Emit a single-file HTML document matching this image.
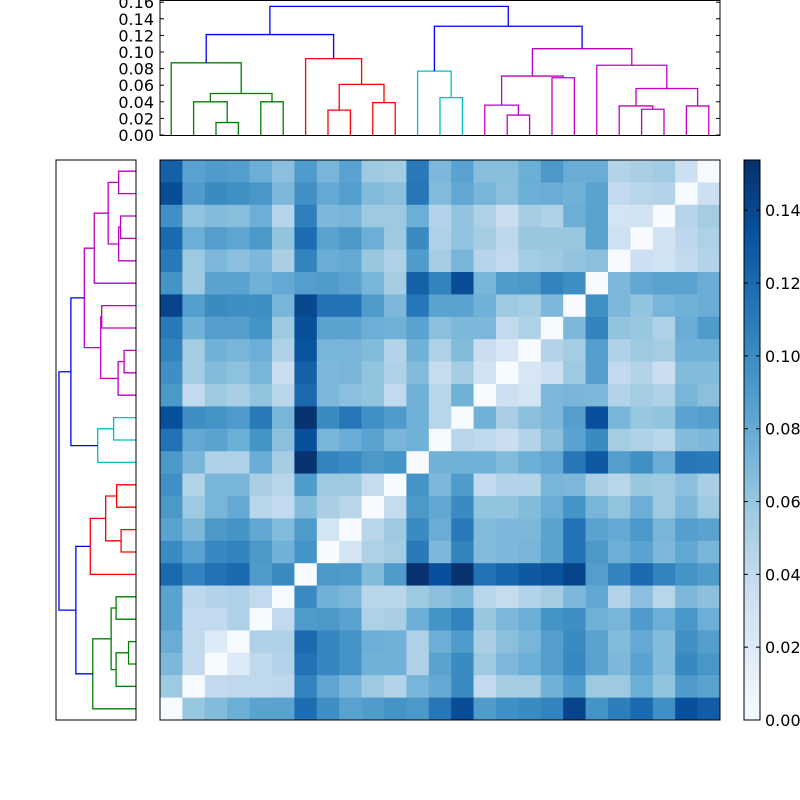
<!DOCTYPE html>
<html><head><meta charset="utf-8"><style>
html,body{margin:0;padding:0;background:#fff;}
svg{display:block;}
text{font-family:"DejaVu Sans","Liberation Sans",sans-serif;font-size:16px;fill:#000;}
</style></head><body>
<svg id="chart" width="800" height="800" viewBox="0 0 800 800">
<rect x="0" y="0" width="800" height="800" fill="#fff"/>
<g id="heat"></g>
<rect x="160" y="160" width="560" height="560" fill="none" stroke="#000" stroke-width="1"/>
<g id="topd"></g>
<rect x="160" y="0.5" width="560" height="135" fill="none" stroke="#000" stroke-width="1"/>
<g id="topaxis"></g>
<g id="leftd"></g>
<rect x="56" y="160" width="80" height="560" fill="none" stroke="#000" stroke-width="1"/>
<defs><linearGradient id="cbgrad" x1="0" y1="1" x2="0" y2="0">
<stop offset="0" stop-color="#f7fbff"/><stop offset="0.125" stop-color="#deebf7"/><stop offset="0.25" stop-color="#c6dbef"/><stop offset="0.375" stop-color="#9ecae1"/><stop offset="0.5" stop-color="#6baed6"/><stop offset="0.625" stop-color="#4292c6"/><stop offset="0.75" stop-color="#2171b5"/><stop offset="0.875" stop-color="#08519c"/><stop offset="1" stop-color="#08306b"/>
</linearGradient></defs>
<rect x="744" y="160" width="16" height="560" fill="url(#cbgrad)" stroke="#000" stroke-width="1"/>
<g id="cbaxis"></g>
</svg>
<script>
const matrix = [
[0.125,0.085,0.09,0.088,0.077,0.065,0.09,0.072,0.085,0.058,0.055,0.11,0.07,0.085,0.066,0.066,0.077,0.092,0.078,0.078,0.048,0.052,0.056,0.033,0],
[0.137,0.09,0.1,0.097,0.093,0.07,0.097,0.08,0.088,0.068,0.065,0.112,0.068,0.082,0.072,0.065,0.077,0.078,0.075,0.085,0.04,0.045,0.048,0,0.033],
[0.097,0.062,0.068,0.066,0.077,0.046,0.107,0.07,0.072,0.058,0.058,0.077,0.048,0.062,0.05,0.035,0.055,0.05,0.077,0.085,0.028,0.03,0,0.046,0.055],
[0.12,0.077,0.088,0.083,0.092,0.062,0.118,0.085,0.092,0.077,0.058,0.1,0.05,0.062,0.055,0.043,0.06,0.06,0.06,0.085,0.032,0,0.03,0.043,0.05],
[0.11,0.058,0.07,0.065,0.07,0.052,0.105,0.078,0.08,0.06,0.05,0.09,0.055,0.072,0.046,0.04,0.055,0.058,0.062,0.065,0,0.033,0.03,0.04,0.048],
[0.095,0.058,0.085,0.085,0.075,0.08,0.088,0.09,0.085,0.072,0.055,0.125,0.105,0.137,0.072,0.09,0.092,0.105,0.098,0,0.07,0.082,0.085,0.085,0.078],
[0.142,0.088,0.1,0.098,0.098,0.072,0.14,0.115,0.115,0.09,0.07,0.112,0.085,0.085,0.075,0.058,0.055,0.07,0,0.097,0.07,0.062,0.072,0.075,0.078],
[0.11,0.075,0.088,0.088,0.095,0.058,0.135,0.085,0.085,0.077,0.075,0.085,0.065,0.07,0.07,0.04,0.05,0,0.07,0.105,0.062,0.06,0.05,0.078,0.09],
[0.105,0.055,0.075,0.072,0.077,0.05,0.133,0.072,0.072,0.068,0.048,0.075,0.05,0.068,0.035,0.025,0,0.048,0.055,0.088,0.05,0.058,0.055,0.075,0.075],
[0.098,0.055,0.068,0.064,0.072,0.035,0.125,0.07,0.072,0.062,0.05,0.068,0.038,0.055,0.03,0,0.025,0.033,0.058,0.088,0.04,0.047,0.035,0.068,0.068],
[0.092,0.04,0.058,0.052,0.062,0.045,0.12,0.07,0.065,0.062,0.04,0.075,0.045,0.075,0,0.033,0.028,0.07,0.072,0.07,0.048,0.055,0.05,0.072,0.065],
[0.135,0.098,0.095,0.09,0.11,0.072,0.152,0.1,0.112,0.097,0.09,0.075,0.045,0,0.075,0.052,0.065,0.07,0.088,0.135,0.072,0.06,0.062,0.085,0.088],
[0.115,0.08,0.085,0.077,0.095,0.065,0.135,0.072,0.078,0.085,0.072,0.075,0,0.045,0.042,0.035,0.048,0.065,0.085,0.1,0.055,0.05,0.045,0.068,0.07],
[0.092,0.072,0.05,0.05,0.078,0.055,0.152,0.105,0.1,0.092,0.095,0,0.075,0.075,0.075,0.068,0.077,0.082,0.112,0.13,0.088,0.097,0.078,0.112,0.11],
[0.097,0.048,0.072,0.072,0.052,0.045,0.09,0.058,0.058,0.038,0,0.095,0.07,0.09,0.04,0.048,0.048,0.072,0.07,0.052,0.045,0.06,0.058,0.065,0.052],
[0.092,0.058,0.072,0.08,0.045,0.04,0.068,0.052,0.045,0,0.038,0.092,0.082,0.1,0.062,0.062,0.068,0.078,0.095,0.072,0.062,0.077,0.058,0.07,0.058],
[0.085,0.07,0.092,0.095,0.082,0.068,0.09,0.028,0,0.045,0.058,0.1,0.078,0.11,0.068,0.07,0.07,0.085,0.115,0.085,0.08,0.092,0.072,0.088,0.085],
[0.1,0.085,0.102,0.105,0.092,0.075,0.095,0,0.028,0.05,0.055,0.11,0.07,0.105,0.068,0.07,0.072,0.085,0.115,0.092,0.077,0.085,0.07,0.082,0.072],
[0.12,0.105,0.115,0.12,0.09,0.1,0,0.092,0.09,0.068,0.09,0.152,0.135,0.152,0.115,0.122,0.13,0.133,0.142,0.088,0.105,0.12,0.105,0.095,0.09],
[0.085,0.043,0.047,0.05,0.04,0,0.1,0.075,0.07,0.045,0.045,0.058,0.065,0.07,0.045,0.038,0.048,0.055,0.07,0.082,0.048,0.065,0.045,0.07,0.065],
[0.085,0.04,0.04,0.05,0,0.04,0.09,0.092,0.085,0.05,0.052,0.077,0.095,0.105,0.06,0.07,0.077,0.095,0.098,0.075,0.072,0.09,0.077,0.093,0.077],
[0.078,0.04,0.02,0,0.05,0.05,0.12,0.103,0.095,0.077,0.075,0.05,0.077,0.09,0.052,0.065,0.072,0.088,0.1,0.085,0.068,0.08,0.068,0.097,0.088],
[0.07,0.04,0,0.02,0.042,0.047,0.115,0.103,0.095,0.075,0.075,0.05,0.085,0.1,0.058,0.07,0.077,0.088,0.102,0.085,0.07,0.085,0.068,0.102,0.093],
[0.058,0,0.04,0.042,0.042,0.043,0.105,0.083,0.072,0.058,0.048,0.072,0.08,0.1,0.04,0.055,0.055,0.075,0.09,0.058,0.058,0.077,0.062,0.09,0.085],
[0,0.06,0.068,0.077,0.085,0.085,0.118,0.098,0.085,0.09,0.095,0.092,0.112,0.137,0.09,0.097,0.1,0.105,0.142,0.095,0.108,0.12,0.097,0.135,0.128]
];
// dendrogram merges: [childA, childB, height]; leaves 0-24, new nodes numbered from 25
const merges = [
[2,3,0.015],[1,25,0.040],[4,5,0.040],[26,27,0.050],[0,28,0.087],
[7,8,0.030],[9,10,0.039],[30,31,0.061],[6,32,0.092],[29,33,0.121],
[12,13,0.045],[11,35,0.077],
[15,16,0.024],[14,37,0.036],[17,18,0.069],[38,39,0.071],
[21,22,0.031],[20,41,0.035],[23,24,0.035],[42,43,0.056],[19,44,0.084],[40,45,0.104],
[36,46,0.131],[34,47,0.155]
];
const mergeColors = ['g','g','g','g','g','r','r','r','r','b','c','c','m','m','m','m','m','m','m','m','m','m','b','b'];
const heightTicks = ['0.00','0.02','0.04','0.06','0.08','0.10','0.12','0.14','0.16'];
const colorbarTicks = ['0.00','0.02','0.04','0.06','0.08','0.10','0.12','0.14'];

const NS='http://www.w3.org/2000/svg';
const vmax=0.1538;
const stops=['#f7fbff','#deebf7','#c6dbef','#9ecae1','#6baed6','#4292c6','#2171b5','#08519c','#08306b'];
const palette={g:'#008000',r:'#ff0000',c:'#00bfbf',m:'#bf00bf',b:'#0000ff'};
function hex(c){return [1,3,5].map(i=>parseInt(c.substr(i,2),16));}
function cmap(v){let t=Math.max(0,Math.min(1,v/vmax))*8;let i=Math.min(7,Math.floor(t));let f=t-i;
 const a=hex(stops[i]),b=hex(stops[i+1]);return 'rgb('+a.map((x,k)=>Math.round(x+(b[k]-x)*f)).join(',')+')';}
function mk(tag,attrs,parent){const e=document.createElementNS(NS,tag);for(const k in attrs)e.setAttribute(k,attrs[k]);parent.appendChild(e);return e;}
// scales
const cell=560/25;
const xCol=c=>160+c*cell, yRow=r=>160+r*cell;
const topLeafX=i=>160+cell/2+i*cell;
const topY=h=>135-h*830;
const leftLeafY=i=>720-cell/2-i*cell;
const leftX=h=>136-h*497;
const cbY=v=>720-v/vmax*560;

const heat=document.getElementById('heat');
matrix.forEach((row,r)=>row.forEach((v,c)=>{
 const el=mk('rect',{x:xCol(c),y:yRow(r),width:cell+0.3,height:cell+0.3,fill:cmap(v)},heat);
 
 
}));

// dendrograms
const pos={},hgt={};
for(let i=0;i<25;i++){pos[i]=i;hgt[i]=0;}
const topd=document.getElementById('topd'),leftd=document.getElementById('leftd');
merges.forEach((m,k)=>{
 const [a,b,h]=m;const id=25+k;pos[id]=(pos[a]+pos[b])/2;hgt[id]=h;
 const col=palette[mergeColors[k]];
 const xa=topLeafX(pos[a]),xb=topLeafX(pos[b]);
 const p1=mk('polyline',{points:`${xa},${topY(hgt[a])} ${xa},${topY(h)} ${xb},${topY(h)} ${xb},${topY(hgt[b])}`,fill:'none',stroke:col,'stroke-width':1.3},topd);
 
 
 const ya=leftLeafY(pos[a]),yb=leftLeafY(pos[b]);
 const p2=mk('polyline',{points:`${leftX(hgt[a])},${ya} ${leftX(h)},${ya} ${leftX(h)},${yb} ${leftX(hgt[b])},${yb}`,fill:'none',stroke:col,'stroke-width':1.3},leftd);
 
 
});

// top axis ticks
const ta=document.getElementById('topaxis');
heightTicks.forEach(t=>{
 const y=topY(parseFloat(t));
 const l1=mk('line',{x1:160,x2:164,y1:y,y2:y,stroke:'#000'},ta);
 
 
 const l2=mk('line',{x1:716,x2:720,y1:y,y2:y,stroke:'#000'},ta);
 
 
 const tx=mk('text',{x:154,y:y+6,'text-anchor':'end'},ta);tx.textContent=t;
 
 
});
// colorbar ticks
const ca=document.getElementById('cbaxis');
colorbarTicks.forEach(t=>{
 const y=cbY(parseFloat(t));
 const l=mk('line',{x1:756,x2:760,y1:y,y2:y,stroke:'#000'},ca);
 
 
 const l0=mk('line',{x1:744,x2:748,y1:y,y2:y,stroke:'#000'},ca);
 
 
 const tx=mk('text',{x:765,y:y+6},ca);tx.textContent=t;
 
 
});
</script>
</body></html>
